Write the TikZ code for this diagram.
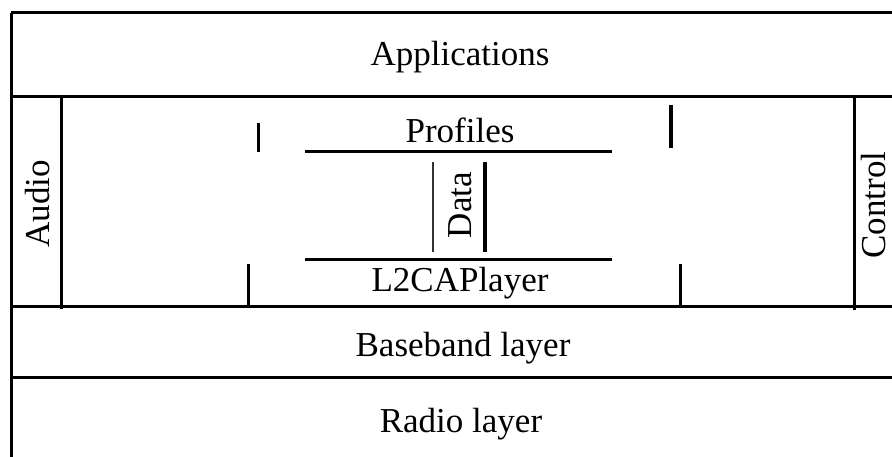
\documentclass[tikz,border=0pt]{standalone}
\usepackage{fontspec}
\setmainfont{Liberation Serif}
\begin{document}
\begin{tikzpicture}[x=1pt,y=-1pt,
  frame/.style={line width=3pt,black},
  tick/.style={line width=3pt,black},
  thicktick/.style={line width=4pt,black},
  thinline/.style={line width=1.3pt,black!80},
  lbl/.style={font=\fontsize{35}{40}\selectfont,inner sep=0pt}]
\useasboundingbox (0,0) rectangle (892,457);
\begin{scope}
\clip (0,0) rectangle (892,457);
% outer frame
\draw[frame] (11,13) -- (892,13);
\draw[frame] (11,13) -- (11,457);
\draw[frame] (11,97) -- (892,97);
\draw[frame] (11,306) -- (892,306);
\draw[frame] (11,377) -- (892,377);
% side columns
\draw[frame] (61,97) -- (61,309);
\draw[frame] (854,97) -- (854,310);
% ticks
\draw[tick] (258,123) -- (258,152);
\draw[thicktick] (671,105) -- (671,148);
\draw[tick] (248,264) -- (248,306);
\draw[tick] (680,264) -- (680,306);
% profiles / L2CAP lines
\draw[frame] (305,152) -- (612,152);
\draw[frame] (305,260) -- (612,260);
% data lines
\draw[thinline] (433,162) -- (433,252);
\draw[thicktick] (485,162) -- (485,252);
% labels
\node[lbl] (app) at (460,57) {Applications};
\node[lbl] (prof) at (460,130) {Profiles};
\node[lbl] (l2cap) at (460,283) {L2CAPlayer};
\node[lbl,rotate=90] (data) at (460,205) {Data};
\node[lbl,rotate=90] (audio) at (38,204) {Audio};
\node[lbl,rotate=90] (ctrl) at (874,205) {Control};
\node[lbl] (base) at (463,348) {Baseband layer};
\node[lbl] (radio) at (461,424) {Radio layer};
\end{scope}
\end{tikzpicture}
\end{document}
